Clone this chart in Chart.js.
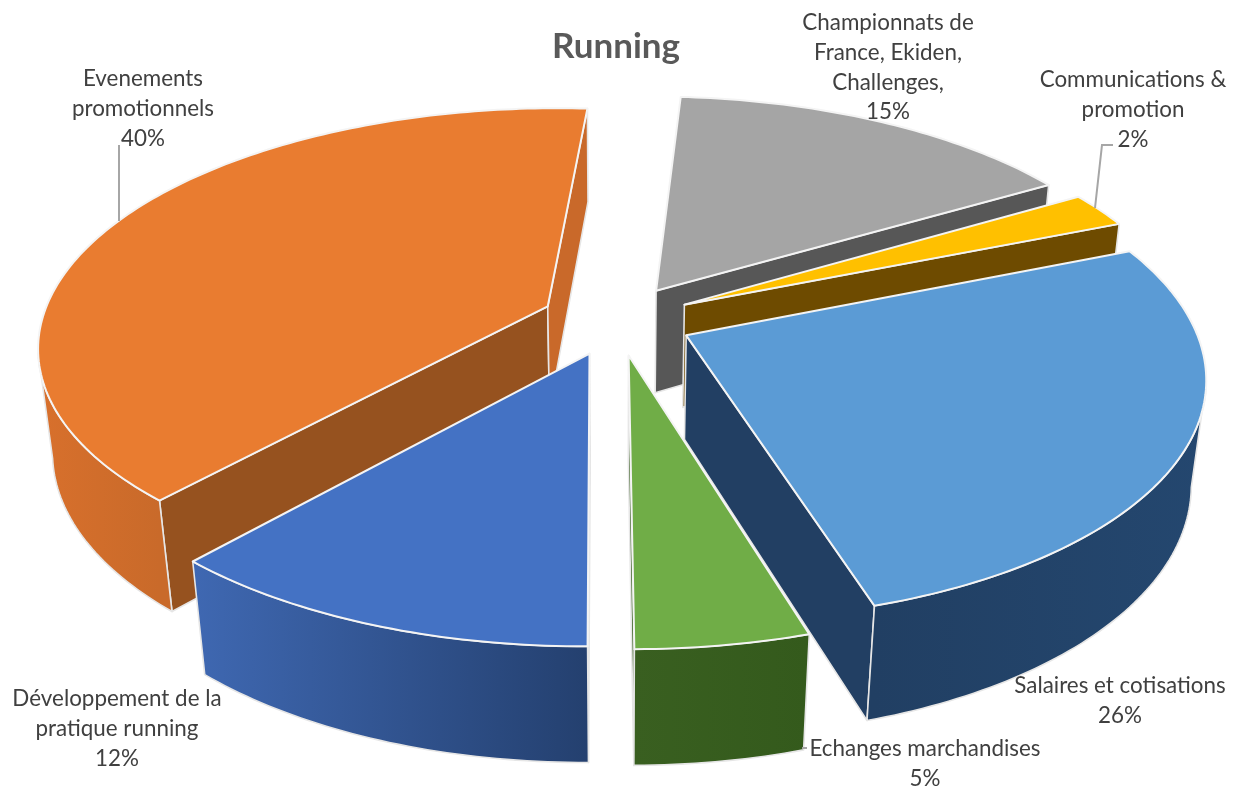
<!DOCTYPE html>
<html lang="fr">
  <head>
    <meta charset="UTF-8" />
    <title>Running</title>
    <script src="https://cdn.jsdelivr.net/npm/chart.js"></script>
    <style>
      body { margin: 0; background: #fff; }
    </style>
  </head>
  <body>
    <canvas id="myChart" width="1240" height="787"></canvas>

    <script>
      const categories = [
        "Championnats de France, Ekiden, Challenges,",
        "Communications & promotion",
        "Salaires et cotisations",
        "Echanges marchandises",
        "Développement de la pratique running",
        "Evenements promotionnels",
      ];
      const values = [15.4, 2.4, 26.4, 4.6, 11.7, 39.5];
      const labelLines = [
        ["Championnats de", "France, Ekiden,", "Challenges,"],
        ["Communications &", "promotion"],
        ["Salaires et cotisations"],
        ["Echanges marchandises"],
        ["Développement de la", "pratique running"],
        ["Evenements", "promotionnels"],
      ];

      // colours and look of each slice
      const cores = ["#a5a5a5", "#ffc000", "#5b9bd5", "#70ad47", "#4472c4", "#e97c30"];
      const coresInicio = ["#505050", "#6e4b00", "#223f63", "#3a5f22", "#264478", "#96521f"];
      const coresFim = ["#575757", "#6e4b00", "#223f63", "#3a5f22", "#264478", "#c9692a"];
      const coresBorda = [
        ["#555555", "#555555"], ["#6e4b00", "#6e4b00"], ["#213f63", "#24476f"],
        ["#395f20", "#345a1c"], ["#3f68b2", "#24406f"], ["#d8702c", "#c96a2a"],
      ];
      const explode = [0.15, 0.15, 0.15, 0.15, 0.15, 0.15];

      // where the pie sits on the page (perspective of the 3D view)
      const vista = { cx: 617, cy: 320, a: 506, b: 234, d: 106, p: 0.16, q: 0.025 };

      const labelPos = [
        { x: 888, y: 23 }, { x: 1133, y: 80 }, { x: 1120, y: 686 },
        { x: 925, y: 749 }, { x: 117, y: 699 }, { x: 143, y: 79 },
      ];
      const leaders = [
        [[119, 145], [119, 221]],
        [[1113, 145], [1102, 145], [1095, 208]],
        [[807, 748], [802, 748]],
      ];

      function projetar(X, Y, z) {
        const w = 1 + vista.p * Y + vista.q * z;
        return [vista.cx + (vista.a * X) / w, vista.cy + (-vista.b * Y + vista.d * z) / w];
      }

      function pintar(ctx, pts, fill, stroke, largura) {
        ctx.beginPath();
        pts.forEach((p, i) => (i ? ctx.lineTo(p[0], p[1]) : ctx.moveTo(p[0], p[1])));
        ctx.closePath();
        ctx.fillStyle = fill;
        ctx.fill();
        ctx.strokeStyle = stroke;
        ctx.lineWidth = largura;
        ctx.stroke();
      }

      function desenharFatia(ctx, arc, i) {
        const passos = Math.max(2, Math.ceil(((arc.endAngle - arc.startAngle) * 180) / Math.PI));
        const meio = (arc.startAngle + arc.endAngle) / 2;
        const ox = explode[i] * Math.cos(meio);
        const oy = -explode[i] * Math.sin(meio);
        const noAro = (ang, z) => projetar(ox + Math.cos(ang), oy - Math.sin(ang), z);
        const v0 = projetar(ox, oy, 0);
        const v1 = projetar(ox, oy, 1);

        // cut faces, only when they look at the camera
        const paredes = [
          [arc.startAngle, coresInicio[i], -1],
          [arc.endAngle, coresFim[i], 1],
        ];
        paredes.forEach(([ang, cor, lado]) => {
          const e0 = noAro(ang, 0);
          const e1 = noAro(ang, 1);
          const cruz = (e0[0] - v0[0]) * (v1[1] - v0[1]) - (e0[1] - v0[1]) * (v1[0] - v0[0]);
          if (cruz * lado > 0) pintar(ctx, [v0, e0, e1, v1], cor, "#e6e6e6", 1.6);
        });

        // rim, front part only
        const cima = [];
        const baixo = [];
        for (let k = 0; k <= passos; k++) {
          const ang = arc.startAngle + ((arc.endAngle - arc.startAngle) * k) / passos;
          if (noAro(ang + 0.005, 0)[0] < noAro(ang, 0)[0]) {
            cima.push(noAro(ang, 0));
            baixo.unshift(noAro(ang, 1));
          }
        }
        if (cima.length > 1) {
          const xs = cima.map((p) => p[0]);
          const grad = ctx.createLinearGradient(Math.min(...xs), 0, Math.max(...xs), 0);
          grad.addColorStop(0, coresBorda[i][0]);
          grad.addColorStop(1, coresBorda[i][1]);
          pintar(ctx, cima.concat(baixo), grad, "#e6e6e6", 1.6);
        }

        // top face
        const topo = [v0];
        for (let k = 0; k <= passos; k++) {
          topo.push(noAro(arc.startAngle + ((arc.endAngle - arc.startAngle) * k) / passos, 0));
        }
        pintar(ctx, topo, arc.options.backgroundColor, "#f4f4f4", 2);
      }

      const pizza3d = {
        id: "pizza3d",
        beforeDatasetDraw(chart) {
          const ctx = chart.ctx;
          const fatias = chart.getDatasetMeta(0).data;
          // back slices first
          const ordem = fatias
            .map((arc, i) => ({ arc, i, y: -Math.sin((arc.startAngle + arc.endAngle) / 2) }))
            .sort((a, b) => b.y - a.y);
          ctx.save();
          ctx.lineJoin = "round";
          ordem.forEach((f) => desenharFatia(ctx, f.arc, f.i));
          ctx.restore();

          ctx.save();
          ctx.strokeStyle = "#a6a6a6";
          ctx.lineWidth = 2;
          leaders.forEach((l) => {
            ctx.beginPath();
            l.forEach((p, i) => (i ? ctx.lineTo(p[0], p[1]) : ctx.moveTo(p[0], p[1])));
            ctx.stroke();
          });
          ctx.font = "22.4px Lato";
          ctx.fillStyle = "#404040";
          ctx.textAlign = "center";
          ctx.textBaseline = "middle";
          labelLines.forEach((linhas, i) => {
            linhas.concat(Math.round(values[i]) + "%").forEach((t, n) => {
              ctx.fillText(t, labelPos[i].x, labelPos[i].y + n * 29.7);
            });
          });
          ctx.restore();
          return false;
        },
      };

      new Chart(document.getElementById("myChart"), {
        type: "pie",
        data: {
          labels: categories,
          datasets: [{ data: values, backgroundColor: cores, borderWidth: 0 }],
        },
        options: {
          responsive: false,
          animation: false,
          rotation: 4,
          layout: { padding: { right: 8 } },
          plugins: {
            legend: { display: false },
            title: {
              display: true,
              text: "Running",
              fullSize: false,
              color: "#595959",
              font: { family: "Lato", size: 35, weight: "bold" },
              padding: { top: 26, bottom: 0 },
            },
          },
        },
        plugins: [pizza3d],
      });
    </script>
  </body>
</html>
